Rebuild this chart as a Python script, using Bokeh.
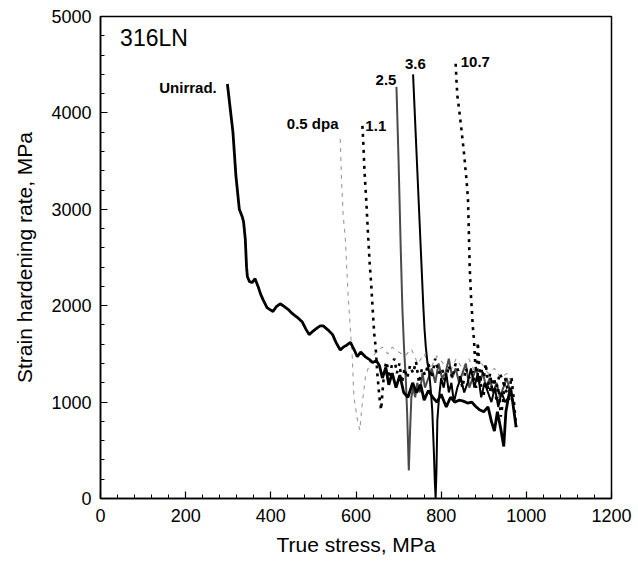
from bokeh.plotting import figure
from bokeh.models import SingleIntervalTicker, Range1d
from bokeh.core.properties import value
from bokeh.embed import file_html
from bokeh.resources import INLINE

# ---- data (true stress MPa, strain hardening rate MPa) ----
unirr_x = [298, 311, 318, 326, 333, 336, 340, 343, 345, 350, 356, 363, 370, 376, 382, 391, 398, 405, 413, 422,
           432, 441, 450, 462, 474, 482, 490, 500, 509, 516, 523, 534, 545, 553, 563, 570, 578, 587, 596, 603,
           611, 622, 632, 639, 648, 655, 662, 670, 677, 685, 694, 703, 712, 722, 733, 742, 752, 760, 770, 780,
           790, 800, 812, 822, 832, 842, 852, 862, 872, 880, 890, 900, 910, 918, 925, 932, 940, 947, 952, 958,
           963, 968, 976]
unirr_y = [4300, 3800, 3350, 3000, 2920, 2870, 2690, 2400, 2300, 2250, 2240, 2280, 2200, 2120, 2060, 1980, 1960, 1940, 1990, 2020,
           1990, 1960, 1920, 1880, 1830, 1760, 1700, 1740, 1770, 1790, 1790, 1750, 1700, 1620, 1540, 1570, 1590, 1620, 1540, 1470,
           1520, 1470, 1440, 1410, 1430, 1380, 1250, 1360, 1180, 1300, 1150, 1280, 1100, 1050, 1200, 1100, 1180, 1020, 1120, 1050,
           1000, 1080, 950, 1050, 1000, 1020, 1010, 990, 1000, 960, 920, 900, 950, 800, 700, 900, 720, 540, 900, 1050,
           1150, 1000, 740]

dpa05_x = [563, 566, 570, 575, 581, 587, 591, 595, 599, 604, 609, 615, 622, 635, 650, 662, 675, 685, 700, 715,
           730, 745, 760, 775, 790, 805, 820, 835, 850, 865, 880, 895, 910, 925, 940, 955, 965]
dpa05_y = [3730, 3300, 2930, 2690, 2150, 1740, 1490, 1060, 940, 800, 710, 1000, 1250, 1450, 1530, 1570, 1500, 1570, 1520, 1480,
           1550, 1400, 1500, 1350, 1480, 1400, 1300, 1450, 1350, 1450, 1300, 1400, 1300, 1350, 1250, 1300, 1200]

dpa11_x = [615, 617, 620, 624, 628, 632, 636, 640, 643, 646, 650, 655, 659, 663, 667, 672, 678, 684, 690, 696,
           702, 708, 714, 720, 727, 734, 741, 748, 755, 762, 770, 778, 786, 794, 802, 810, 818, 826, 834, 842,
           850, 858, 866, 874, 882, 890, 898, 906, 914, 922, 930, 938, 946, 954, 962]
dpa11_y = [3865, 3710, 3390, 3100, 2760, 2450, 2200, 1900, 1700, 1580, 1300, 1050, 920, 1150, 1350, 1420, 1250, 1380, 1450, 1300,
           1400, 1200, 1350, 1250, 1380, 1300, 1420, 1200, 1350, 1280, 1400, 1250, 1450, 1300, 1350, 1200, 1380, 1250, 1400, 1300,
           1150, 1350, 1250, 1320, 1150, 1280, 1050, 1200, 1100, 1250, 1150, 1300, 1200, 1100, 1000]

dpa25_x = [695, 700, 705, 709, 713, 717, 720, 722, 724, 727, 730, 734, 739, 744, 750, 756, 762, 770, 778, 786,
           794, 802, 810, 818, 826, 834, 842, 850, 858, 866, 874, 882, 890, 898, 906, 914, 922, 930, 938, 946,
           954, 962, 970]
dpa25_y = [4270, 3500, 2600, 1960, 1540, 1230, 900, 600, 290, 700, 1050, 1150, 1050, 1200, 1100, 1300, 1150, 1250, 1350, 1200,
           1400, 1250, 1300, 1450, 1250, 1350, 1200, 1300, 1400, 1150, 1250, 1350, 1200, 1300, 1150, 1250, 1100, 1200, 1050, 1150,
           1250, 1100, 1000]

dpa36_x = [734, 738, 742, 746, 750, 754, 758, 761, 764, 768, 772, 776, 779, 783, 785, 787, 789, 791, 795, 800,
           806, 812, 818, 824, 830, 838, 846, 854, 862, 870, 878, 886, 894, 902, 910, 918, 926, 934, 942, 950, 958]
dpa36_y = [4400, 4000, 3600, 3200, 2800, 2400, 2000, 1750, 1570, 1400, 1300, 1100, 920, 470, 190, 0, 300, 810, 1050, 1250,
           1150, 1300, 1100, 1200, 1000, 1150, 1250, 1100, 1200, 1350, 1150, 1300, 1050, 1200, 1100, 1000, 1150, 950, 1100, 1000, 1050]

dpa107_x = [834, 836, 838, 842, 846, 850, 854, 857, 860, 863, 865, 867, 870, 872, 874, 877, 880, 883, 886, 889,
            892, 896, 900, 905, 910, 915, 920, 925, 930, 935, 940, 945, 950, 955, 960, 965, 970, 976]
dpa107_y = [4510, 4330, 4180, 4040, 3890, 3730, 3570, 3420, 3280, 3100, 2760, 2400, 2100, 1960, 1800, 1650, 1400, 1300, 1620, 1400,
            1200, 1350, 1250, 1400, 1150, 1300, 1100, 1250, 1000, 1150, 850, 1000, 1250, 1150, 1100, 1260, 1050, 740]

# curve labels
label_text = ["Unirrad.", "0.5 dpa"]
label_x = [273, 559]
label_y = [4260, 3890]
label2_text = ["1.1", "2.5", "3.6", "10.7"]
label2_x = [622, 646, 715, 846]
label2_y = [3868, 4346, 4510, 4528]

FONT = "Liberation Sans"

p = figure(frame_width=511, frame_height=482, output_backend="svg", toolbar_location=None,
           x_range=Range1d(0, 1200), y_range=Range1d(0, 5000),
           min_border_left=100, min_border_right=27, min_border_top=16, min_border_bottom=64,
           background_fill_color="white", border_fill_color="white")
p.grid.visible = False
p.outline_line_color = "black"
p.outline_line_width = 1.5

p.xaxis.ticker = SingleIntervalTicker(interval=200, num_minor_ticks=5)
p.yaxis.ticker = SingleIntervalTicker(interval=1000, num_minor_ticks=5)
for ax in (p.xaxis[0], p.yaxis[0]):
    ax.major_tick_in = 7
    ax.major_tick_out = 0
    ax.minor_tick_in = 4
    ax.minor_tick_out = 0
    ax.axis_line_width = 1.5
    ax.major_tick_line_width = 1.2
    ax.minor_tick_line_width = 1
    ax.major_label_text_font = FONT
    ax.major_label_text_font_size = "18px"
    ax.major_label_text_color = "black"
    ax.axis_label_text_font = FONT
    ax.axis_label_text_font_size = "21px"
    ax.axis_label_text_font_style = "normal"
    ax.axis_label_text_color = "black"
p.xaxis.axis_label = "True stress, MPa"
p.yaxis.axis_label = "Strain hardening rate, MPa"
p.xaxis.major_label_standoff = 10
p.yaxis.major_label_standoff = 9
p.xaxis.axis_label_standoff = 8
p.yaxis.axis_label_standoff = 12

p.line(dpa05_x, dpa05_y, line_color="#9a9a9a", line_width=1.1, line_dash="4 5")
p.line(dpa25_x, dpa25_y, line_color="#4a4a4a", line_width=2)
p.line(dpa11_x, dpa11_y, line_color="black", line_width=2.6, line_dash="3 5")
p.line(dpa107_x, dpa107_y, line_color="black", line_width=2.6, line_dash="3 5")
p.line(dpa36_x, dpa36_y, line_color="black", line_width=2)
p.line(unirr_x, unirr_y, line_color="black", line_width=2.8)

p.text(x=label_x, y=label_y, text=label_text, text_font=value(FONT), text_font_style="bold",
       text_font_size="15px", text_align="right", text_baseline="middle", text_color="black")
p.text(x=label2_x, y=label2_y, text=label2_text, text_font=value(FONT), text_font_style="bold",
       text_font_size="15px", text_align="left", text_baseline="middle", text_color="black")
p.text(x=[46], y=[4776], text=["316LN"], text_font=value(FONT), text_font_size="23px",
       text_align="left", text_baseline="middle", text_color="black")

open("out.html", "w").write(file_html(p, INLINE))
